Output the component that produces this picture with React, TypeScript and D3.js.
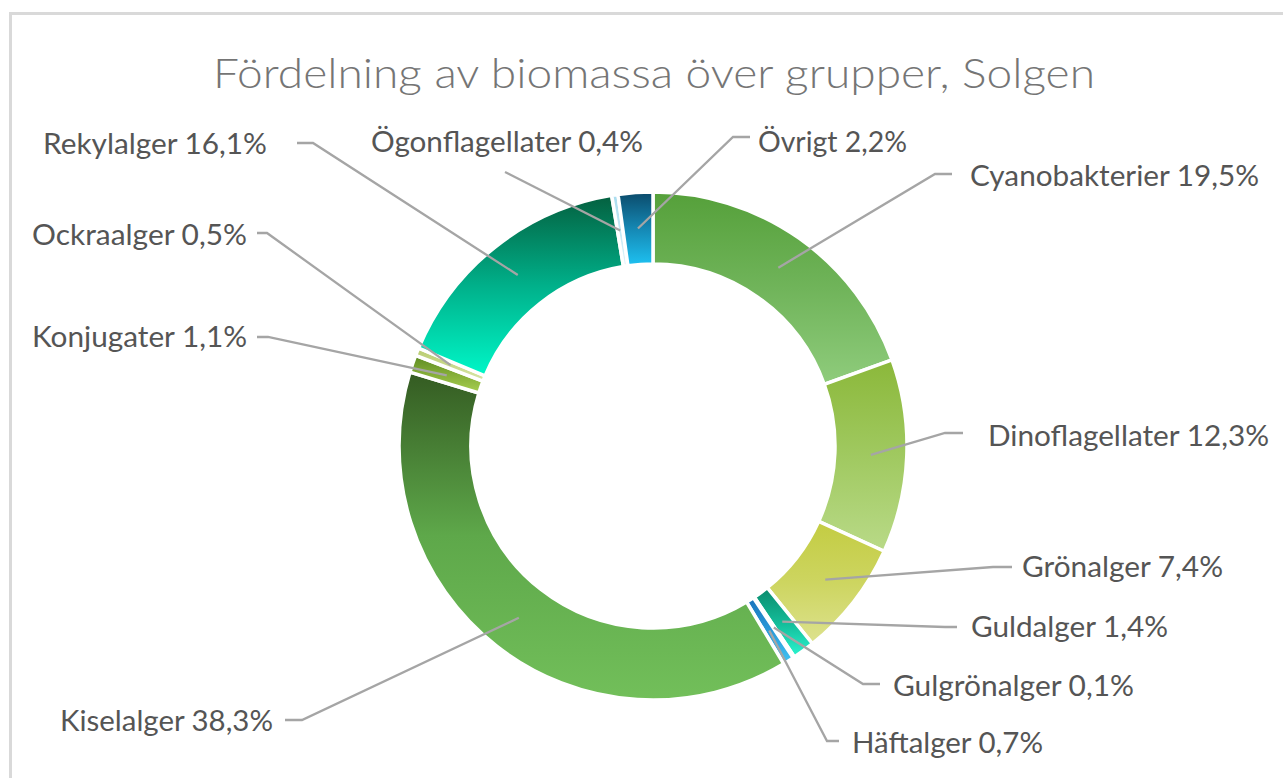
import React from 'react';
import * as d3 from 'd3';

const title = 'Fördelning av biomassa över grupper, Solgen';
const categories = [
  'Cyanobakterier', 'Dinoflagellater', 'Grönalger', 'Guldalger', 'Gulgrönalger', 'Häftalger',
  'Kiselalger', 'Konjugater', 'Ockraalger', 'Rekylalger', 'Ögonflagellater', 'Övrigt',
];
const values = [19.5, 12.3, 7.4, 1.4, 0.1, 0.7, 38.3, 1.1, 0.5, 16.1, 0.4, 2.2];
const colorTop = ['#55a03a', '#8bb83a', '#c3cc42', '#0a8a6c', '#3aa89a', '#1a74bc', '#345b22', '#5c8a22', '#b8cc70', '#04603f', '#a8dcef', '#0b4a6a'];
const colorMid = ['#70b45a', '#a0c960', '#cdd560', '#13bb98', '#5cc8bc', '#2a9ad8', '#5ea84a', '#84ad38', '#c8d88a', '#00b08a', '#c4e8f4', '#1588b4'];
const colorBottom = ['#8fcc7c', '#b9da88', '#dde28e', '#2af5d0', '#80e8dc', '#42c4f2', '#72bf5a', '#a8cf50', '#d8e6a8', '#00f7c8', '#e0f4fa', '#1ec2f2'];

// label layout: left x of text, baseline, elbow point, end point of leader, measured text width
const labelLayout = [
  { x: 970, y: 186, ex: 935, ey: 174, hx: 952, w: 289 },
  { x: 988, y: 446, ex: 945, ey: 433, hx: 963, w: 281 },
  { x: 1022, y: 577, ex: 993, ey: 567, hx: 1012, w: 201 },
  { x: 971, y: 637, ex: 945, ey: 627, hx: 957, w: 197 },
  { x: 893, y: 696, ex: 863, ey: 684, hx: 880, w: 241 },
  { x: 852, y: 753, ex: 827, ey: 741, hx: 839, w: 191 },
  { x: 60, y: 731, ex: 302, ey: 720, hx: 285, w: 213 },
  { x: 32, y: 347, ex: 268, ey: 337, hx: 257, w: 215 },
  { x: 32, y: 245, ex: 267, ey: 233, hx: 257, w: 215 },
  { x: 43, y: 154, ex: 313, ey: 143, hx: 297, w: 224 },
  { x: 371, y: 152, ex: 505, ey: 172, hx: 505, w: 272 },
  { x: 758, y: 152, ex: 733, ey: 137, hx: 750, w: 149 },
];

const W = 1283;
const H = 778;
const cx = 653;
const cy = 446;
const rOuter = 254;
const rInner = 182;

export default function App() {
  const data = categories.map((c, i) => ({ c, v: values[i], i }));
  const pie = d3.pie<any>().value((d) => d.v).sort(null).startAngle(0).endAngle(2 * Math.PI);
  const arcs = pie(data);
  const arc = d3.arc<any>().innerRadius(rInner).outerRadius(rOuter);
  const midArc = d3.arc<any>().innerRadius(218).outerRadius(218);
  const fmt = (v: number) => v.toFixed(1).replace('.', ',') + '%';
  const font = 'Lato, "Open Sans", sans-serif';

  return (
    <div style={{ position: 'absolute', left: 0, top: 0 }}>
      <svg width={W} height={H} style={{ display: 'block' }}>
        <defs>
          {arcs.map((a, i) => (
            <linearGradient key={i} id={`g${i}`} x1="0" y1="0" x2="0" y2="1">
              <stop offset="0" stopColor={colorTop[i]} />
              <stop offset="0.5" stopColor={colorMid[i]} />
              <stop offset="1" stopColor={colorBottom[i]} />
            </linearGradient>
          ))}
        </defs>
        <rect x={0} y={0} width={W} height={H} fill="#ffffff" />
        <rect x={10.5} y={13.5} width={1300} height={800} fill="#ffffff" stroke="#d9d9d9" strokeWidth={3} />
        <text x={654} y={88} textAnchor="middle" fontFamily={font} fontWeight={300} fontSize={42}
          fill="#757575" textLength={882} lengthAdjust="spacingAndGlyphs">{title}</text>
        <g transform={`translate(${cx},${cy})`}>
          {arcs.map((a, i) => (
            <path key={i} d={arc(a) as string} fill={`url(#g${i})`} stroke="#ffffff" strokeWidth={3.5} strokeLinejoin="miter" />
          ))}
        </g>
        {arcs.map((a, i) => {
          const [mx, my] = midArc.centroid(a);
          const L = labelLayout[i];
          const pts: [number, number][] = [[cx + mx, cy + my], [L.ex, L.ey], [L.hx, L.ey]];
          return (
            <path key={`l${i}`} d={d3.line()(pts) as string} fill="none" stroke="#a5a5a5" strokeWidth={2.3} />
          );
        })}
        {arcs.map((a, i) => {
          const L = labelLayout[i];
          return (
            <text key={`t${i}`} x={L.x} y={L.y} fontFamily={font} fontSize={28} fill="#555555"
              textLength={L.w} lengthAdjust="spacingAndGlyphs">
              {`${categories[i]} ${fmt(values[i])}`}
            </text>
          );
        })}
      </svg>
    </div>
  );
}
